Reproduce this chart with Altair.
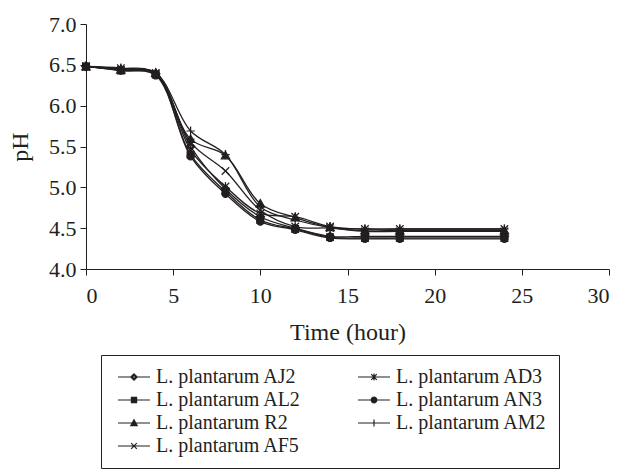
import altair as alt
import pandas as pd

# ---- data ----
hours = [0, 2, 4, 6, 8, 10, 12, 14, 16, 18, 24]
series_names = [
    "L. plantarum AJ2", "L. plantarum AL2", "L. plantarum R2", "L. plantarum AF5",
    "L. plantarum AD3", "L. plantarum AN3", "L. plantarum AM2",
]
ph_AJ2 = [6.48, 6.44, 6.39, 5.50, 4.98, 4.64, 4.50, 4.40, 4.40, 4.40, 4.40]
ph_AL2 = [6.48, 6.43, 6.38, 5.40, 4.95, 4.60, 4.49, 4.39, 4.38, 4.38, 4.38]
ph_R2 = [6.48, 6.44, 6.40, 5.59, 5.39, 4.80, 4.63, 4.51, 4.47, 4.47, 4.47]
ph_AF5 = [6.48, 6.44, 6.39, 5.55, 5.20, 4.72, 4.52, 4.50, 4.46, 4.46, 4.46]
ph_AD3 = [6.48, 6.46, 6.40, 5.46, 5.01, 4.68, 4.64, 4.52, 4.49, 4.49, 4.49]
ph_AN3 = [6.48, 6.43, 6.37, 5.38, 4.92, 4.58, 4.48, 4.38, 4.37, 4.37, 4.37]
ph_AM2 = [6.48, 6.45, 6.40, 5.69, 5.40, 4.76, 4.60, 4.51, 4.49, 4.49, 4.49]
x_ticks = [0, 5, 10, 15, 20, 25, 30]
y_ticks = [4.0, 4.5, 5.0, 5.5, 6.0, 6.5, 7.0]

all_series = [ph_AJ2, ph_AL2, ph_R2, ph_AF5, ph_AD3, ph_AN3, ph_AM2]
rows = []
for name, vals in zip(series_names, all_series):
    for t, v in zip(hours, vals):
        rows.append({"t": t, "pH": v, "series": name})
df = pd.DataFrame(rows)

INK = "#231f20"
FONT = "Liberation Serif"

# marker shapes for the plot
diamond = "M0,-1L1,0L0,1L-1,0Z M0,-0.55L-0.55,0L0,0.55L0.55,0Z"
square = "M-0.8,-0.8H0.8V0.8H-0.8Z"
triangle = "M0,-1L1,0.8H-1Z"
cross = "M-0.9,-0.9L0.9,0.9M-0.9,0.9L0.9,-0.9"
aster = "M-0.9,-0.9L0.9,0.9M-0.9,0.9L0.9,-0.9M0,-1.1V1.1"
circle = "M-0.85,0A0.85,0.85 0 1,0 0.85,0A0.85,0.85 0 1,0 -0.85,0Z"
plus = "M-1,0H1M0,-1.1V1.1"
chart_shapes = [diamond, square, triangle, cross, aster, circle, plus]

# line + marker shapes for the legend
LINE = "M-4,0H4 "
legend_shapes = [
    "M-4,0H-0.8M0.8,0H4 M0,-0.8L0.8,0L0,0.8L-0.8,0Z M0,-0.42L-0.42,0L0,0.42L0.42,0Z",
    LINE + "M-0.65,-0.65H0.65V0.65H-0.65Z",
    LINE + "M0,-0.8L0.8,0.65H-0.8Z",
    LINE + "M-0.7,-0.7L0.7,0.7M-0.7,0.7L0.7,-0.7",
    LINE + "M-0.7,-0.7L0.7,0.7M-0.7,0.7L0.7,-0.7M0,-0.85V0.85",
    LINE + "M-0.7,0A0.7,0.7 0 1,0 0.7,0A0.7,0.7 0 1,0 -0.7,0Z",
    LINE + "M0,-0.85V0.85",
]

base = alt.Chart(df)

lines = base.mark_line(interpolate="catmull-rom", color=INK, strokeWidth=1.3).encode(
    x=alt.X("t:Q", scale=alt.Scale(domain=[0, 30], nice=False),
            axis=alt.Axis(values=x_ticks, title="Time (hour)")),
    y=alt.Y("pH:Q", scale=alt.Scale(domain=[4.0, 7.0], nice=False, zero=False),
            axis=alt.Axis(values=y_ticks, format=".1f", title="pH")),
    detail="series:N",
)

points = base.mark_point(filled=True, color=INK, stroke=INK, strokeWidth=1.2, size=70, opacity=1).encode(
    x="t:Q",
    y="pH:Q",
    shape=alt.Shape("series:N", scale=alt.Scale(domain=series_names, range=chart_shapes), legend=None),
)

legend_layer = base.transform_filter("datum.t < 0").mark_point(
    filled=False, color=INK, fill=INK, strokeWidth=1.2, size=64, opacity=1
).encode(
    x="t:Q",
    y="pH:Q",
    shape=alt.Shape(
        "series:N",
        scale=alt.Scale(domain=series_names, range=legend_shapes),
        legend=alt.Legend(
            title=None,
            orient="none",
            legendX=15,
            legendY=331,
            columns=2,
            direction="vertical",
            strokeColor=INK,
            padding=12,
            rowPadding=3,
            columnPadding=52,
            symbolSize=64,
            symbolOffset=11,
            labelOffset=12,
            labelLimit=0,
            symbolStrokeWidth=1.2,
            symbolOpacity=1,
            labelFont=FONT,
            labelFontSize=20,
            labelColor=INK,
        ),
    ),
)

chart = (
    alt.layer(lines, points, legend_layer)
    .resolve_scale(shape="independent")
    .properties(
        width=523,
        height=245,
        autosize=alt.AutoSizeParams(type="none"),
        padding={"left": 78, "top": 16, "right": 7, "bottom": 202},
    )
    .configure_view(stroke=None)
    .configure_axis(
        domainColor=INK,
        tickColor=INK,
        labelColor=INK,
        titleColor=INK,
        labelFont=FONT,
        titleFont=FONT,
        labelFontSize=22,
        titleFontSize=24,
        titleFontWeight="normal",
        grid=False,
        tickSize=6,
        domainWidth=1,
        tickWidth=1,
    )
    .configure_axisX(labelPadding=10, titlePadding=14)
    .configure_axisY(labelPadding=4, titlePadding=16)
)

chart.save("out.html", embed_options={"renderer": "svg", "actions": False})
